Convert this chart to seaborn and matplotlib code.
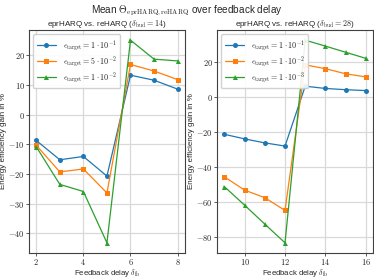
import numpy as np
import pandas as pd
import matplotlib
matplotlib.use("Agg")
import matplotlib.pyplot as plt
from matplotlib.ticker import FuncFormatter
import seaborn as sns

# left panel: delta_bud = 14
delay_14 = [2, 3, 4, 5, 6, 7, 8]
gain_14_e1 = [-8.7, -15.2, -14.1, -20.7, 13.3, 11.6, 8.6]
gain_14_e5 = [-10.3, -19.3, -18.3, -26.4, 16.9, 14.7, 11.8]
gain_14_e2 = [-10.8, -23.5, -25.9, -43.2, 25.1, 18.7, 18.1]
labels_14 = [r"$\epsilon_{\mathrm{target}} = 1\cdot10^{-1}$",
             r"$\epsilon_{\mathrm{target}} = 5\cdot10^{-2}$",
             r"$\epsilon_{\mathrm{target}} = 1\cdot10^{-2}$"]

# right panel: delta_bud = 28
delay_28 = [9, 10, 11, 12, 13, 14, 15, 16]
gain_28_e1 = [-21.6, -24.2, -26.5, -28.3, 5.9, 4.6, 3.9, 3.4]
gain_28_e2 = [-45.9, -53.5, -57.8, -65.1, 18.1, 15.9, 13.0, 11.2]
gain_28_e3 = [-51.5, -62.1, -72.9, -83.6, 32.2, 28.8, 25.3, 21.8]
labels_28 = [r"$\epsilon_{\mathrm{target}} = 1\cdot10^{-1}$",
             r"$\epsilon_{\mathrm{target}} = 1\cdot10^{-2}$",
             r"$\epsilon_{\mathrm{target}} = 1\cdot10^{-3}$"]

sns.set_style("whitegrid", {"axes.edgecolor": "0.25", "grid.color": "0.85"})
plt.rcParams["font.family"] = ["Liberation Sans", "DejaVu Sans"]
plt.rcParams["mathtext.fontset"] = "cm"
plt.rcParams["font.size"] = 5.5

colors = sns.color_palette("tab10", 3)
markers = ["o", "s", "^"]

fig, axes = plt.subplots(1, 2, figsize=(3.74, 2.78), dpi=100)
fig.subplots_adjust(left=0.078, right=0.997, bottom=0.09, top=0.892, wspace=0.21)

panels = [
    (axes[0], delay_14, [gain_14_e1, gain_14_e5, gain_14_e2], labels_14,
     r"eprHARQ vs. reHARQ ($\delta_{\mathrm{bud}} = 14$)"),
    (axes[1], delay_28, [gain_28_e1, gain_28_e2, gain_28_e3], labels_28,
     r"eprHARQ vs. reHARQ ($\delta_{\mathrm{bud}} = 28$)"),
]

fmt = FuncFormatter(lambda v, p: r"$%g$" % v)

for ax, xs, series, labels, title in panels:
    rows = []
    for vals, lab in zip(series, labels):
        for x, v in zip(xs, vals):
            rows.append({"delay": x, "gain": v, "eps": lab})
    df = pd.DataFrame(rows)
    for i, lab in enumerate(labels):
        sub = df[df["eps"] == lab]
        sns.lineplot(data=sub, x="delay", y="gain", ax=ax, color=colors[i],
                     marker=markers[i], markersize=3.6, markeredgewidth=0,
                     linewidth=0.9, label=lab)
    ax.set_title(title, fontsize=5.8, pad=3)
    ax.set_xlabel(r"Feedback delay $\delta_{\mathrm{fb}}$", fontsize=5.6, labelpad=0)
    ax.set_ylabel("Energy efficiency gain in %", fontsize=5.8, labelpad=1)
    ax.xaxis.set_major_formatter(fmt)
    ax.yaxis.set_major_formatter(fmt)
    ax.tick_params(labelsize=6, pad=1.2, length=2, width=0.6, left=True, bottom=True, color="0.25")
    for s in ax.spines.values():
        s.set_linewidth(0.8)
    ax.grid(True, linewidth=0.9)
    ax.legend(loc="upper left", fontsize=5.8, frameon=True, framealpha=0.9,
              borderpad=0.45, handlelength=2.4, labelspacing=0.15, edgecolor="0.8",
              borderaxespad=0.5)

axes[0].set_xticks([2, 4, 6, 8])
axes[1].set_xticks([10, 12, 14, 16])

fig.suptitle(r"Mean $\Theta_{\mathrm{eprHARQ,reHARQ}}$ over feedback delay",
             fontsize=7.2, y=0.985)

fig.savefig("out.png", dpi=100)
